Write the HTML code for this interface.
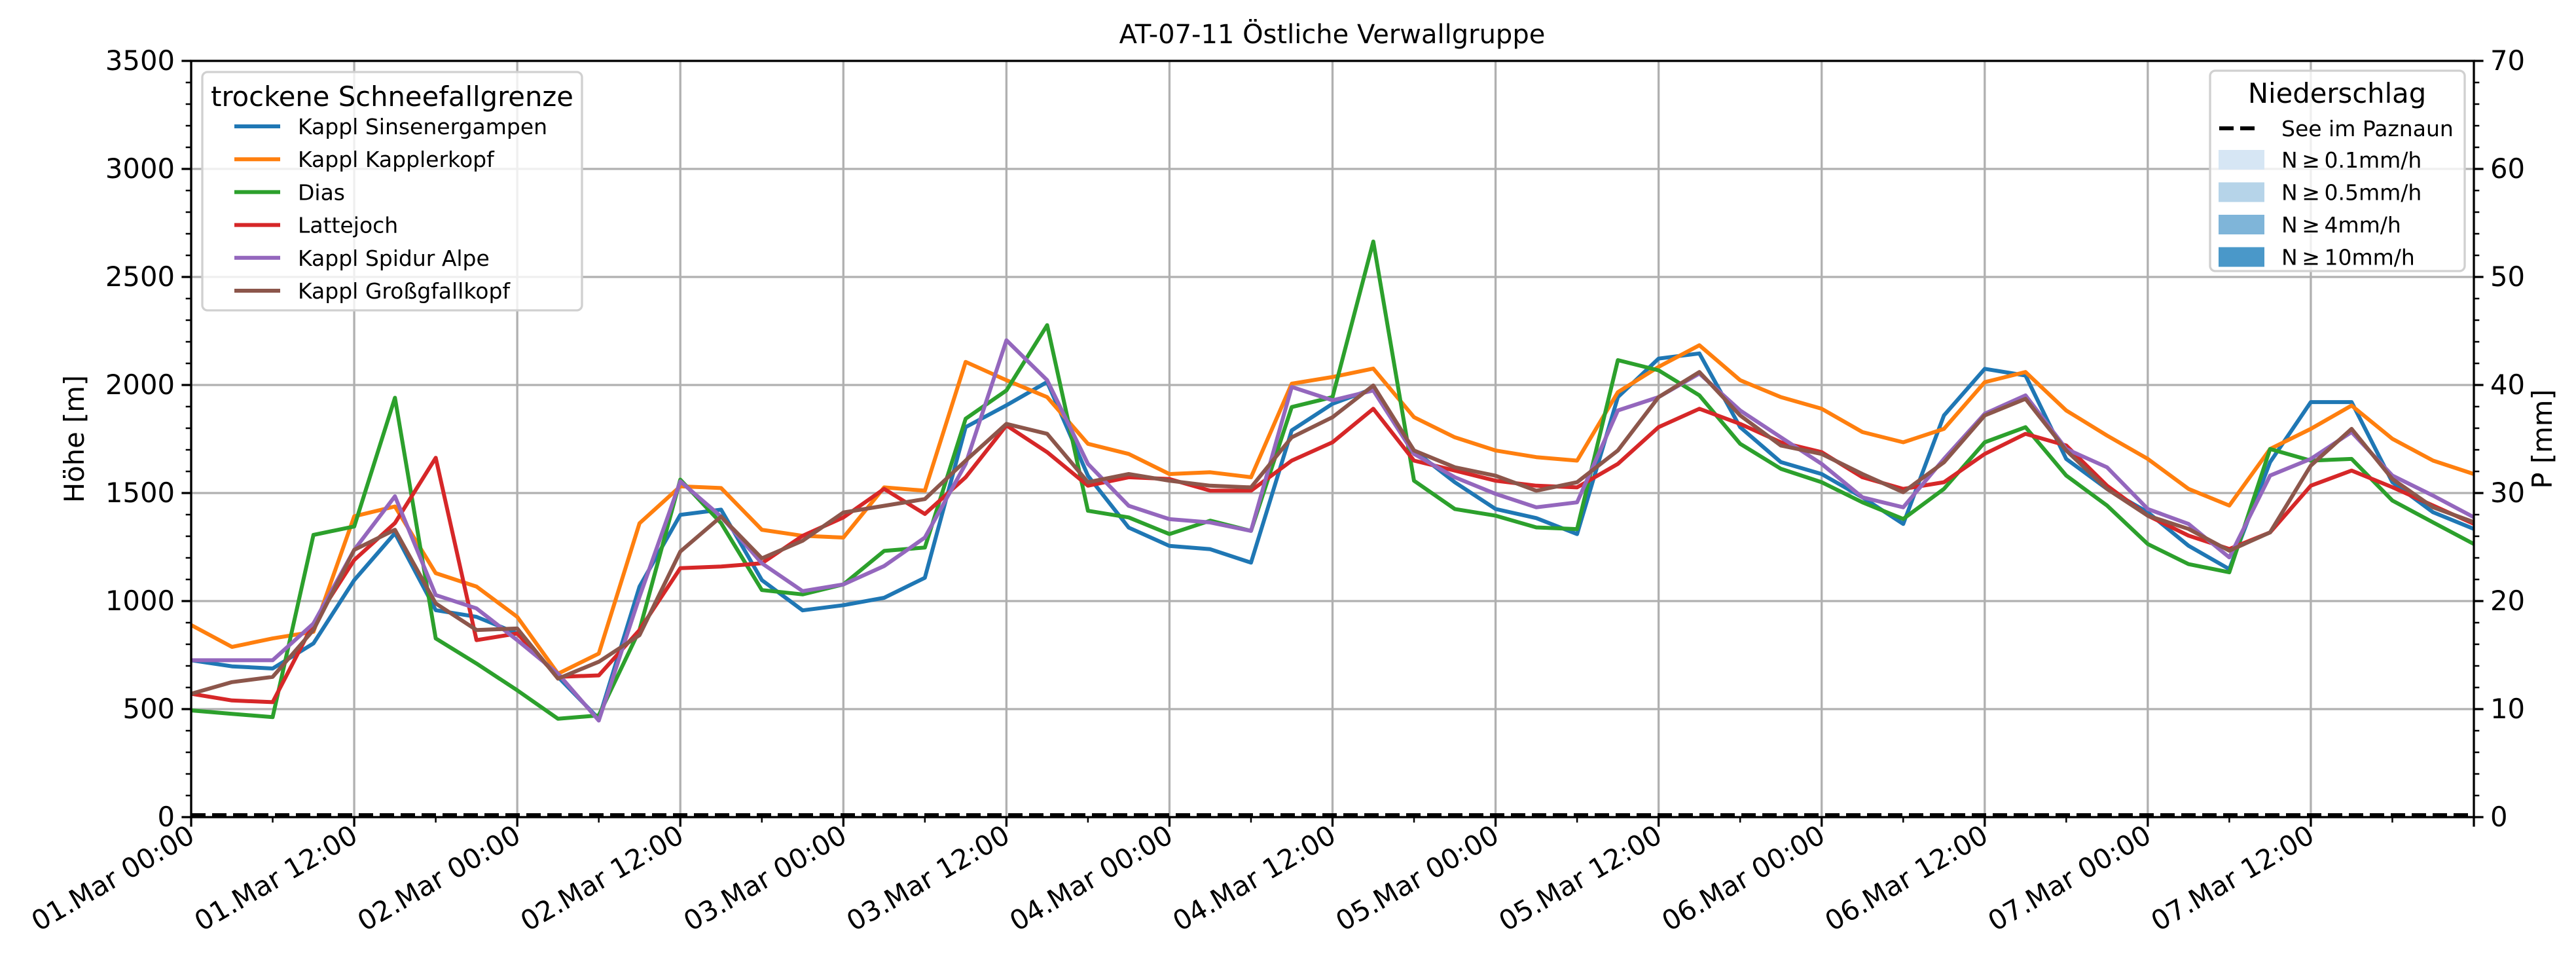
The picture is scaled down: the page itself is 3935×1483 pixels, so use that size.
<!DOCTYPE html>
<html><head><meta charset="utf-8"><style>
html,body{margin:0;padding:0;background:#fff;}
svg{display:block;font-family:"DejaVu Sans","Liberation Sans",sans-serif;}
</style></head><body>
<svg id="chart" xmlns="http://www.w3.org/2000/svg" width="3935" height="1483" viewBox="0 0 3935 1483">
<rect width="3935" height="1483" fill="#fff"/>
<text x="2035" y="66" font-size="40" text-anchor="middle">AT-07-11 Östliche Verwallgruppe</text>
<g id="grid"></g>
<g id="series"></g>
<g id="axes"></g>
<g id="legend-left"></g>
<g id="legend-right"></g>
</svg>
<script>
const hours = [0,3,6,9,12,15,18,21,24,27,30,33,36,39,42,45,48,51,54,57,60,63,66,69,72,75,78,81,84,87,90,93,96,99,102,105,108,111,114,117,120,123,126,129,132,135,138,141,144,147,150,153,156,159,162,165,168];
const seriesNames = ["Kappl Sinsenergampen","Kappl Kapplerkopf","Dias","Lattejoch","Kappl Spidur Alpe","Kappl Großgfallkopf"];
const seriesColors = ["#1f77b4","#ff7f0e","#2ca02c","#d62728","#9467bd","#8c564b"];
const sinsenergampen = [726,698,688,804,1097,1314,958,927,850,649,455,1067,1399,1423,1097,957,981,1015,1108,1805,1906,2014,1580,1340,1255,1240,1178,1790,1913,1983,1697,1550,1426,1384,1310,1944,2122,2146,1805,1643,1588,1480,1357,1859,2075,2044,1658,1519,1411,1256,1148,1643,1921,1921,1550,1411,1334];
const kapplerkopf = [889,788,827,858,1392,1438,1129,1067,927,664,757,1360,1531,1523,1330,1302,1294,1526,1511,2107,2022,1944,1728,1681,1588,1596,1573,2006,2037,2076,1851,1758,1697,1666,1650,1967,2084,2184,2022,1944,1890,1782,1735,1797,2013,2060,1882,1766,1658,1519,1442,1704,1797,1905,1751,1650,1588];
const dias = [494,478,463,1306,1345,1941,827,711,587,455,471,866,1562,1361,1051,1031,1077,1232,1248,1844,1975,2277,1418,1387,1310,1372,1325,1898,1944,2664,1557,1426,1395,1341,1333,2115,2068,1952,1728,1612,1550,1457,1380,1519,1735,1805,1581,1442,1264,1171,1133,1704,1650,1658,1465,1364,1264];
const lattejoch = [571,540,532,896,1190,1361,1663,819,850,649,656,866,1152,1160,1175,1302,1387,1519,1403,1573,1813,1689,1534,1573,1565,1511,1511,1650,1735,1890,1650,1604,1557,1534,1526,1635,1805,1890,1820,1735,1689,1573,1519,1550,1681,1774,1720,1534,1395,1303,1241,1318,1534,1604,1527,1442,1357];
const spidurAlpe = [726,726,726,896,1237,1485,1028,966,819,664,447,1020,1554,1391,1175,1046,1077,1162,1294,1635,2207,2022,1635,1441,1379,1364,1325,1991,1929,1975,1681,1573,1496,1434,1457,1882,1944,2053,1882,1758,1635,1480,1434,1658,1867,1952,1704,1619,1426,1357,1202,1581,1658,1782,1581,1488,1388];
const grossgfallkopf = [571,625,649,866,1237,1330,989,866,873,641,719,842,1229,1391,1198,1279,1410,1441,1472,1650,1820,1774,1550,1588,1557,1534,1526,1758,1851,1998,1697,1619,1580,1511,1550,1697,1944,2060,1859,1720,1681,1588,1504,1642,1859,1936,1697,1519,1395,1334,1233,1318,1627,1797,1565,1434,1365];
const seriesValues = [sinsenergampen,kapplerkopf,dias,lattejoch,spidurAlpe,grossgfallkopf];
const precipSee = [0,0,0,0,0,0,0,0,0,0,0,0,0,0,0,0,0,0,0,0,0,0,0,0,0,0,0,0,0,0,0,0,0,0,0,0,0,0,0,0,0,0,0,0,0,0,0,0,0,0,0,0,0,0,0,0,0];
const leftTicks = [0,500,1000,1500,2000,2500,3000,3500];
const rightTicks = [0,10,20,30,40,50,60,70];
const xTickLabels = ["01.Mar 00:00","01.Mar 12:00","02.Mar 00:00","02.Mar 12:00","03.Mar 00:00","03.Mar 12:00","04.Mar 00:00","04.Mar 12:00","05.Mar 00:00","05.Mar 12:00","06.Mar 00:00","06.Mar 12:00","07.Mar 00:00","07.Mar 12:00"];
const precipLegend = ["N\u2009\u2265\u20090.1mm/h","N\u2009\u2265\u20090.5mm/h","N\u2009\u2265\u20094mm/h","N\u2009\u2265\u200910mm/h"];
const precipColors = ["#d6e6f4","#b6d4e9","#7fb5d9","#4a98c9"];

const NS="http://www.w3.org/2000/svg";
const L=292,R=3779,T=93,B=1248;
const xs=h=>L+(h/168)*(R-L);
const ys=v=>B-(v/3500)*(B-T);
const ys2=v=>B-(v/70)*(B-T);
function el(tag,attrs,parent,txt){const e=document.createElementNS(NS,tag);for(const k in attrs)e.setAttribute(k,attrs[k]);if(txt!==undefined)e.textContent=txt;parent.appendChild(e);return e;}
const grid=document.getElementById('grid'),ser=document.getElementById('series'),ax=document.getElementById('axes');
// grid
for(let i=0;i<xTickLabels.length;i++){const x=xs(i*12);
 const g=el('line',{x1:x,x2:x,y1:T,y2:B,stroke:'#b0b0b0','stroke-width':3.3},grid);
 
 }
leftTicks.forEach(v=>{const y=ys(v);
 const g=el('line',{x1:L,x2:R,y1:y,y2:y,stroke:'#b0b0b0','stroke-width':3.3},grid);
 
 });
// series
seriesValues.forEach((vals,si)=>{
 const pts=vals.map((v,i)=>xs(hours[i]).toFixed(1)+','+ys(v).toFixed(1)).join(' ');
 const p=el('polyline',{points:pts,fill:'none',stroke:seriesColors[si],'stroke-width':6,'stroke-linejoin':'round'},ser);
 
 
});
{const pts=precipSee.map((v,i)=>xs(hours[i]).toFixed(1)+','+(ys2(v)-3).toFixed(1)).join(' ');
 const p=el('polyline',{points:pts,fill:'none',stroke:'#000','stroke-width':6,'stroke-dasharray':'22 10'},ser);
 
 }
// spines
const sp=el('rect',{x:L,y:T,width:R-L,height:B-T,fill:'none',stroke:'#000','stroke-width':3.3},ax);


// left ticks
for(let v=0;v<=3500;v+=100){const y=ys(v),major=v%500===0;
 el('line',{x1:L,x2:L-(major?14.6:8.3),y1:y,y2:y,stroke:'#000','stroke-width':major?3.3:2.5},ax);
 if(major){const t=el('text',{x:L-25,y:y+14,'font-size':41.7,'text-anchor':'end'},ax,String(v));
  
  }}
for(let v=0;v<=70;v+=2){const y=ys2(v),major=v%10===0;
 el('line',{x1:R,x2:R+(major?14.6:8.3),y1:y,y2:y,stroke:'#000','stroke-width':major?3.3:2.5},ax);
 if(major){const t=el('text',{x:R+25,y:y+14,'font-size':41.7,'text-anchor':'start'},ax,String(v));
  
  }}
for(let h=0;h<=168;h+=6){const x=xs(h),major=h%12===0;
 el('line',{x1:x,x2:x,y1:B,y2:B+(major?14.6:8.3),stroke:'#000','stroke-width':major?3.3:2.5},ax);}
xTickLabels.forEach((s,i)=>{const x=xs(i*12)+8,y=B+36;
 const t=el('text',{x:x,y:y,'font-size':41.7,'text-anchor':'end',transform:`rotate(-30 ${x} ${y})`},ax,s);
 
 });
{const t=el('text',{x:0,y:0,'font-size':41.7,'text-anchor':'middle',transform:`translate(128 ${(T+B)/2}) rotate(-90)`},ax,'Höhe [m]');
 
 
 const t2=el('text',{x:0,y:0,'font-size':41.7,'text-anchor':'middle',transform:`translate(3898 ${(T+B)/2}) rotate(-90)`},ax,'P [mm]');
 
 }
// legend left
const lg=document.getElementById('legend-left');
el('rect',{x:309,y:110,width:580,height:364,rx:8,fill:'#fff','fill-opacity':0.8,stroke:'#d0d0d0','stroke-width':3.3},lg);
el('text',{x:599,y:162,'font-size':41.7,'text-anchor':'middle'},lg,'trockene Schneefallgrenze');
seriesNames.forEach((n,i)=>{const y=193+i*50.2;
 el('line',{x1:358,x2:428,y1:y,y2:y,stroke:seriesColors[i],'stroke-width':6},lg);
 const t=el('text',{x:455,y:y+12,'font-size':33},lg,n);
 
 });
// legend right
const lr=document.getElementById('legend-right');
el('rect',{x:3376,y:108,width:389,height:306,rx:8,fill:'#fff','fill-opacity':0.8,stroke:'#d0d0d0','stroke-width':3.3},lr);
el('text',{x:3570,y:157,'font-size':41.7,'text-anchor':'middle'},lr,'Niederschlag');
el('line',{x1:3390,x2:3448,y1:196,y2:196,stroke:'#000','stroke-width':6,'stroke-dasharray':'22 10'},lr);
{const t=el('text',{x:3485,y:208,'font-size':33},lr,'See im Paznaun');
 
 }
precipLegend.forEach((s,i)=>{const y=244+i*49.5;
 el('rect',{x:3389,y:y-15,width:70,height:30,fill:precipColors[i]},lr);
 const t=el('text',{x:3485,y:y+12,'font-size':33},lr,s);
 
 });
</script>
</body></html>
